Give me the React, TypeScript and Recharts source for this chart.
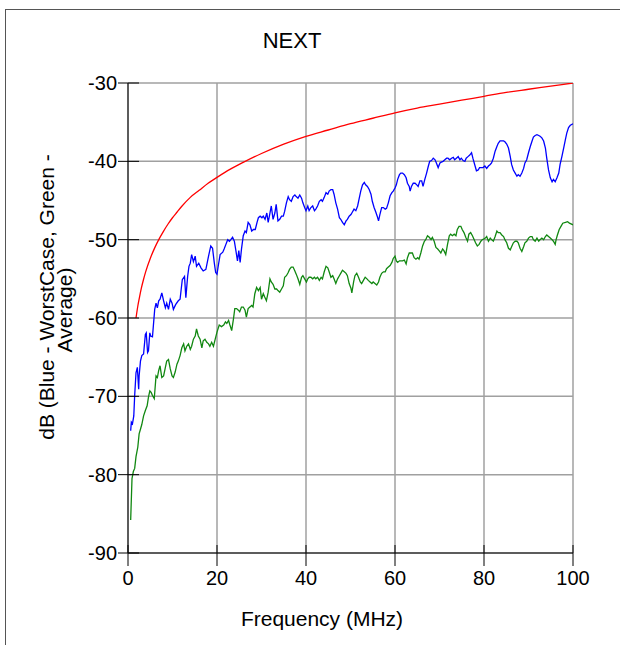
import React from 'react';
import { LineChart, Line, XAxis, YAxis, CartesianGrid } from 'recharts';

// [frequency MHz, dB]
const limitLine: [number, number][] = [
  [1.8, -60.0], [2.2, -58.5], [2.6, -57.3], [3, -56.2], [3.5, -55.05], [4, -54.05], [5, -52.4],
  [6, -51.05], [7, -49.9], [8, -48.9], [9, -48.0], [10, -47.2], [11, -46.5], [12, -45.8], [14, -44.6],
  [16, -43.7], [18, -42.8], [20, -42.05], [23, -41.0], [26, -40.1], [30, -39.0], [35, -37.8],
  [40, -36.8], [45, -36.0], [50, -35.2], [55, -34.5], [60, -33.8], [65, -33.2], [70, -32.7],
  [75, -32.2], [80, -31.7], [85, -31.2], [90, -30.8], [95, -30.4], [100, -30.0],
];

const worstCase: [number, number][] = [
  [0.6, -74.4], [0.75, -73.3], [1.0, -73.5], [1.3, -72.5], [1.5, -69.9], [1.8, -67.0], [2.1, -66.3],
  [2.4, -69.1], [2.5, -67.4], [2.8, -65.5], [3.1, -64.8], [3.5, -64.6], [3.9, -62.1], [4.1, -61.9],
  [4.4, -64.4], [4.6, -64.2], [4.9, -61.9], [5.1, -62.3], [5.5, -62.4], [6.0, -58.9], [6.3, -58.1],
  [6.6, -58.7], [6.9, -57.8], [7.2, -57.6], [7.6, -56.8], [8.0, -57.8], [8.4, -58.7], [8.7, -58.1],
  [9.1, -58.9], [9.5, -57.6], [9.9, -58.1], [10.2, -58.9], [10.7, -58.3], [11.3, -57.8], [11.7, -57.6],
  [12.2, -55.1], [12.7, -54.7], [13.0, -57.4], [13.4, -54.7], [13.7, -53.4], [14.0, -53.0], [14.3, -51.9],
  [14.7, -52.8], [15.1, -52.1], [15.4, -53.4], [15.9, -53.0], [16.4, -53.6], [16.9, -54.0], [17.5, -53.8],
  [18.1, -52.1], [18.6, -50.8], [19.0, -51.1], [19.4, -53.0], [19.7, -54.2], [20.0, -54.4], [20.3, -53.3],
  [20.7, -51.9], [21.3, -51.6], [21.6, -51.2], [22.0, -50.6], [22.4, -50.0], [22.8, -50.2], [23.1, -50.0],
  [23.5, -49.7], [23.9, -50.2], [24.3, -51.6], [24.6, -52.7], [24.9, -51.4], [25.2, -52.9], [25.5, -51.2],
  [25.9, -49.5], [26.3, -48.9], [26.6, -49.1], [27.0, -47.8], [27.4, -48.1], [27.8, -48.9], [28.2, -48.7],
  [28.6, -48.7], [29.0, -47.8], [29.3, -47.2], [29.7, -47.0], [30.1, -47.2], [30.4, -47.0], [30.8, -47.4],
  [31.2, -46.6], [31.5, -47.8], [31.9, -46.6], [32.2, -45.7], [32.6, -47.4], [33.0, -46.6], [33.3, -45.5],
  [33.7, -47.6], [34.1, -47.4], [34.5, -47.0], [34.9, -47.0], [35.2, -46.4], [35.6, -45.3], [36.0, -44.5],
  [36.3, -44.9], [36.7, -45.1], [37.1, -44.5], [37.5, -44.3], [37.8, -44.5], [38.2, -44.7], [38.6, -44.3],
  [39.0, -44.7], [39.3, -45.3], [39.7, -45.9], [40.0, -46.3], [40.4, -45.7], [40.7, -46.3], [41.1, -45.9],
  [41.5, -45.7], [41.9, -46.3], [42.2, -46.1], [42.6, -45.7], [43.0, -45.1], [43.4, -44.9], [43.7, -45.1],
  [44.1, -44.6], [44.5, -44.0], [44.9, -44.2], [45.2, -43.8], [45.6, -43.6], [46.0, -43.6], [46.3, -44.2],
  [46.7, -45.3], [47.1, -46.1], [47.5, -47.2], [47.8, -47.4], [48.2, -47.8], [48.6, -48.1], [49.0, -47.6],
  [49.3, -47.4], [49.7, -47.0], [50.1, -46.8], [50.4, -46.5], [50.8, -46.1], [51.2, -46.3], [51.6, -45.7],
  [51.9, -44.9], [52.3, -43.8], [52.7, -43.0], [53.1, -42.7], [53.4, -43.0], [53.8, -43.2], [54.2, -43.6],
  [54.6, -44.2], [54.9, -45.1], [55.3, -45.9], [55.7, -46.5], [56.0, -47.0], [56.3, -47.6], [56.6, -46.8],
  [57.0, -45.9], [57.4, -45.9], [57.8, -46.1], [58.1, -46.0], [58.5, -45.3], [58.9, -44.4], [59.3, -44.0],
  [59.6, -43.8], [60.0, -43.4], [60.3, -43.0], [60.6, -42.3], [61.0, -41.7], [61.3, -41.5], [61.7, -41.5],
  [62.1, -41.7], [62.5, -42.1], [62.8, -42.8], [63.2, -43.2], [63.4, -43.8], [63.7, -43.2], [64.1, -42.8],
  [64.5, -42.8], [64.9, -43.0], [65.2, -43.2], [65.6, -42.5], [66.0, -42.5], [66.3, -43.2], [66.7, -42.3],
  [67.1, -41.5], [67.5, -40.6], [67.8, -40.0], [68.2, -39.9], [68.6, -39.6], [69.0, -39.8], [69.3, -40.2],
  [69.7, -40.8], [70.1, -40.2], [70.4, -40.1], [70.8, -40.0], [71.2, -39.8], [71.6, -39.6], [71.9, -39.6],
  [72.3, -39.8], [72.7, -39.6], [73.1, -39.5], [73.4, -39.8], [73.8, -39.6], [74.2, -39.4], [74.6, -39.8],
  [74.9, -39.6], [75.3, -39.9], [75.7, -40.0], [76.0, -39.6], [76.4, -39.4], [76.8, -39.2], [77.2, -38.9],
  [77.5, -39.6], [77.9, -40.4], [78.3, -41.2], [78.7, -41.1], [79.0, -40.8], [79.4, -40.8], [79.8, -40.8],
  [80.2, -40.6], [80.6, -40.9], [81.0, -40.6], [81.4, -40.4], [81.7, -40.2], [82.1, -39.6], [82.5, -38.7],
  [82.9, -38.1], [83.2, -37.7], [83.6, -37.4], [84.0, -37.4], [84.4, -37.4], [84.7, -37.5], [85.1, -37.8],
  [85.5, -38.3], [85.9, -39.4], [86.2, -40.4], [86.6, -41.1], [87.0, -41.5], [87.4, -41.9], [87.7, -41.7],
  [88.1, -41.9], [88.5, -41.5], [88.9, -40.9], [89.2, -40.2], [89.6, -39.8], [90.0, -38.9], [90.4, -38.1],
  [90.8, -37.4], [91.1, -36.9], [91.5, -36.7], [91.9, -36.6], [92.3, -36.7], [92.6, -36.8], [93.0, -37.0],
  [93.4, -37.4], [93.8, -38.3], [94.1, -39.6], [94.5, -41.1], [94.9, -42.1], [95.3, -42.6], [95.6, -42.3],
  [96.0, -42.6], [96.4, -42.1], [96.8, -41.5], [97.1, -40.4], [97.5, -39.4], [97.9, -38.3], [98.3, -37.2],
  [98.6, -36.4], [99.0, -35.7], [99.4, -35.4], [100, -35.2],
];

const average: [number, number][] = [
  [0.6, -85.8], [0.9, -80.5], [1.2, -79.6], [1.5, -79.2], [1.8, -77.7], [2.0, -77.1], [2.2, -76.5],
  [2.5, -74.8], [2.8, -74.2], [3.1, -73.6], [3.5, -72.5], [3.9, -71.8], [4.3, -71.2], [4.6, -70.1],
  [4.9, -69.3], [5.2, -69.5], [5.5, -69.9], [5.9, -70.3], [6.3, -67.4], [6.6, -67.6], [6.9, -66.7],
  [7.2, -66.1], [7.6, -67.6], [8.0, -67.4], [8.4, -66.3], [8.7, -65.5], [9.1, -65.3], [9.5, -66.5],
  [9.9, -67.4], [10.2, -67.6], [10.6, -66.9], [11.0, -65.9], [11.3, -65.5], [11.7, -64.8], [12.1, -63.8],
  [12.5, -63.3], [12.8, -64.2], [13.2, -63.6], [13.6, -63.3], [14.0, -64.0], [14.3, -63.6], [14.7, -62.7],
  [15.1, -62.3], [15.4, -61.4], [15.8, -62.3], [16.2, -62.7], [16.6, -63.8], [16.9, -62.9], [17.3, -62.7],
  [17.7, -63.1], [18.1, -63.3], [18.4, -63.6], [18.8, -63.1], [19.2, -63.6], [19.6, -62.7], [20.0, -61.8],
  [20.5, -60.9], [21.0, -61.1], [21.5, -60.9], [21.9, -60.5], [22.2, -60.7], [22.6, -60.3], [22.9, -60.9],
  [23.3, -61.6], [23.7, -60.1], [24.0, -58.8], [24.4, -58.8], [24.8, -59.0], [25.1, -59.2], [25.5, -58.6],
  [25.9, -58.6], [26.3, -59.0], [26.6, -59.9], [27.0, -58.8], [27.4, -58.6], [27.8, -58.4], [28.1, -58.6],
  [28.5, -56.9], [28.9, -56.1], [29.3, -56.5], [29.7, -56.1], [30.0, -57.6], [30.4, -56.9], [30.7, -57.3],
  [31.1, -57.8], [31.5, -56.7], [31.9, -55.0], [32.2, -55.4], [32.6, -55.7], [33.0, -56.3], [33.4, -56.3],
  [33.7, -56.5], [34.1, -56.7], [34.5, -56.3], [34.9, -55.9], [35.2, -54.8], [35.6, -54.6], [36.0, -54.2],
  [36.3, -53.8], [36.7, -53.5], [37.1, -53.5], [37.5, -54.0], [37.8, -54.4], [38.2, -55.0], [38.6, -55.7],
  [39.0, -54.8], [39.3, -54.6], [39.7, -55.0], [40.1, -55.4], [40.4, -55.0], [40.7, -54.8], [41.1, -54.8],
  [41.5, -55.0], [41.9, -54.8], [42.2, -55.0], [42.6, -54.8], [43.0, -55.2], [43.4, -54.8], [43.7, -55.0],
  [44.1, -54.1], [44.5, -53.4], [44.9, -53.6], [45.2, -54.1], [45.6, -54.8], [46.0, -54.6], [46.3, -55.0],
  [46.7, -55.6], [47.1, -55.0], [47.5, -54.6], [47.8, -54.3], [48.2, -53.9], [48.6, -54.1], [49.0, -54.3],
  [49.3, -54.6], [49.7, -55.6], [50.1, -56.2], [50.3, -56.8], [50.7, -55.4], [51.0, -54.6], [51.4, -54.3],
  [51.8, -54.8], [52.2, -55.4], [52.5, -55.6], [52.9, -55.2], [53.3, -54.8], [53.7, -55.0], [54.0, -55.2],
  [54.4, -55.4], [54.8, -55.6], [55.1, -55.4], [55.5, -55.6], [55.9, -55.8], [56.3, -55.4], [56.6, -54.8],
  [57.0, -54.3], [57.4, -54.1], [57.8, -54.1], [58.1, -53.7], [58.5, -53.5], [58.9, -53.3], [59.3, -52.9],
  [59.6, -52.4], [60.0, -52.1], [60.3, -52.7], [60.6, -52.9], [61.0, -52.7], [61.3, -52.7], [61.7, -52.7],
  [62.1, -52.6], [62.5, -53.1], [62.8, -52.3], [63.2, -51.7], [63.6, -51.7], [63.9, -51.7], [64.3, -52.3],
  [64.7, -52.5], [65.1, -52.3], [65.4, -52.5], [65.8, -51.7], [66.2, -50.8], [66.6, -50.2], [66.9, -50.0],
  [67.3, -49.5], [67.7, -49.7], [68.1, -50.0], [68.4, -49.7], [68.8, -50.2], [69.2, -51.0], [69.6, -51.2],
  [69.9, -51.4], [70.3, -51.7], [70.7, -51.2], [71.0, -51.4], [71.4, -51.9], [71.8, -50.6], [72.2, -49.5],
  [72.5, -49.3], [72.9, -49.5], [73.3, -49.3], [73.7, -49.5], [74.0, -48.7], [74.4, -48.3], [74.8, -48.3],
  [75.1, -48.7], [75.5, -49.1], [75.9, -49.7], [76.3, -50.2], [76.6, -49.3], [77.0, -49.1], [77.4, -49.5],
  [77.8, -50.0], [78.1, -50.4], [78.5, -50.8], [78.9, -50.6], [79.3, -50.2], [79.6, -50.0], [80.0, -49.9],
  [80.3, -49.8], [80.6, -49.6], [81.0, -50.2], [81.4, -49.8], [81.7, -50.0], [82.1, -50.2], [82.5, -49.6],
  [82.9, -48.9], [83.2, -49.1], [83.6, -49.1], [84.0, -49.4], [84.4, -49.6], [84.7, -50.0], [85.1, -50.4],
  [85.5, -51.1], [85.9, -51.3], [86.2, -50.9], [86.6, -50.4], [87.0, -50.2], [87.4, -50.2], [87.7, -50.4],
  [88.1, -51.1], [88.5, -51.5], [88.9, -50.9], [89.2, -50.4], [89.6, -50.2], [90.0, -49.8], [90.4, -49.6],
  [90.8, -49.6], [91.1, -50.0], [91.5, -50.2], [91.9, -49.8], [92.3, -50.2], [92.6, -50.0], [93.0, -49.8],
  [93.4, -50.0], [93.8, -49.6], [94.1, -49.4], [94.5, -49.6], [94.9, -49.8], [95.3, -50.0], [95.6, -50.2],
  [96.0, -50.6], [96.2, -50.0], [96.5, -49.4], [96.9, -48.7], [97.3, -48.3], [97.7, -47.9], [98.3, -47.8],
  [98.8, -47.7], [99.2, -47.9], [100, -48.1],
];

const xTicks = [0, 20, 40, 60, 80, 100];
const yTicks = [-90, -80, -70, -60, -50, -40, -30];

const toRows = (pts: [number, number][]) => pts.map(([f, db]) => ({ f, db }));

const FONT = '"Liberation Sans", Arial, sans-serif';
const PLOT_LEFT = 128;
const PLOT_BOTTOM = 553;

// tick marks cross the axis line, so they are drawn here instead of tickLine
const XTick = (props: any) => {
  const { x, payload } = props;
  const y = PLOT_BOTTOM;
  return (
    <g>
      <line x1={x} x2={x} y1={y - 8} y2={y + 13} stroke="#000" strokeWidth={1} />
      <text x={x} y={y + 32} textAnchor="middle" fontSize={20} fontFamily={FONT} fill="#000">
        {payload.value}
      </text>
    </g>
  );
};

const YTick = (props: any) => {
  const { y, payload } = props;
  const x = PLOT_LEFT;
  return (
    <g>
      <line x1={x - 10} x2={x + 11} y1={y} y2={y} stroke="#000" strokeWidth={1} />
      <text x={x - 11} y={y + 7} textAnchor="end" fontSize={20} fontFamily={FONT} fill="#000">
        {payload.value}
      </text>
    </g>
  );
};

export default function App() {
  return (
    <div style={{ position: 'absolute', left: 0, top: 0, width: 620, height: 645, background: '#fff', fontFamily: FONT }}>
      <div style={{ position: 'absolute', left: 5, top: 9, width: 615, height: 636, borderTop: '1px solid #555', borderLeft: '1px solid #555' }} />
      <LineChart width={620} height={645} margin={{ top: 83, right: 47, bottom: 52, left: 68 }}>
        <CartesianGrid stroke="#a0a0a0" strokeWidth={1.5} />
        <XAxis
          type="number"
          dataKey="f"
          domain={[0, 100]}
          ticks={xTicks}
          height={40}
          tickLine={false}
          tick={(p: any) => <XTick {...p} />}
          axisLine={{ stroke: '#000' }}
          allowDataOverflow
        />
        <YAxis
          type="number"
          dataKey="db"
          domain={[-90, -30]}
          ticks={yTicks}
          width={60}
          tickLine={false}
          tick={(p: any) => <YTick {...p} />}
          axisLine={{ stroke: '#000' }}
          allowDataOverflow
        />
        <Line data={toRows(limitLine)} dataKey="db" type="monotone" stroke="#ff0000" strokeWidth={1.3} dot={false} isAnimationActive={false} />
        <Line data={toRows(worstCase)} dataKey="db" type="linear" stroke="#0000ff" strokeWidth={1.3} dot={false} isAnimationActive={false} />
        <Line data={toRows(average)} dataKey="db" type="linear" stroke="#118811" strokeWidth={1.3} dot={false} isAnimationActive={false} />
      </LineChart>
      <svg width={620} height={645} style={{ position: 'absolute', left: 0, top: 0, pointerEvents: 'none' }}>
        <text x={292} y={48} textAnchor="middle" fontSize={22} fontFamily={FONT} fill="#000">NEXT</text>
        <text x={322} y={626} textAnchor="middle" fontSize={21} fontFamily={FONT} fill="#000">Frequency (MHz)</text>
        <g transform="translate(0 297) rotate(-90)">
          <text x={0} y={54} textAnchor="middle" fontSize={21} fontFamily={FONT} fill="#000">
            dB (Blue - WorstCase, Green -
          </text>
          <text x={-13} y={72} textAnchor="middle" fontSize={21} fontFamily={FONT} fill="#000">
            Average)
          </text>
        </g>
      </svg>
    </div>
  );
}
